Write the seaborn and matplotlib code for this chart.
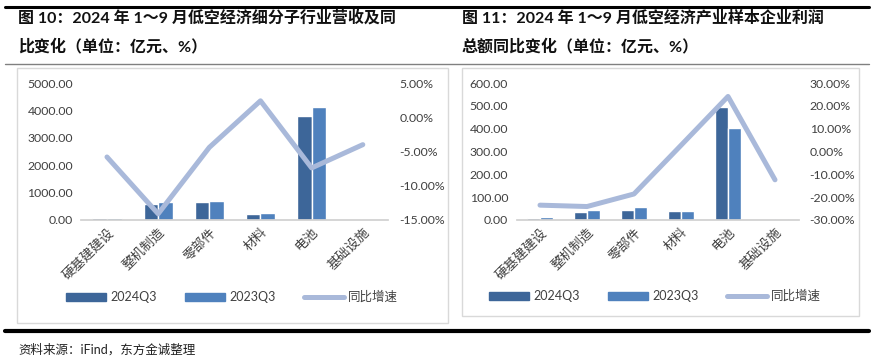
import matplotlib
matplotlib.use("Agg")
import matplotlib.pyplot as plt
from matplotlib.patches import Rectangle
from matplotlib.lines import Line2D
import seaborn as sns
import numpy as np
import pandas as pd

categories = ['硬基建建设', '整机制造', '零部件', '材料', '电池', '基础设施']
periods = ['2024Q3', '2023Q3']

# figure 10: revenue (亿元) and yoy (%)
rev_2024 = [60, 585, 670, 230, 3800, 5]
rev_2023 = [70, 660, 705, 240, 4120, 5]
rev_yoy = [-5.8, -14.1, -4.4, 2.4, -7.4, -4.0]

# figure 11: profit (亿元) and yoy (%)
profit_2024 = [7, 35, 45, 41, 497, 0.5]
profit_2023 = [11, 45, 57, 39, 401, 3]
profit_yoy = [-23.5, -24.1, -18.6, 2.7, 24.1, -12.4]

title_10 = ['图 10：2024 年 1～9 月低空经济细分子行业营收及同', '比变化（单位：亿元、%）']
title_11 = ['图 11：2024 年 1～9 月低空经济产业样本企业利润', '总额同比变化（单位：亿元、%）']
source = '资料来源：iFind，东方金诚整理'

sns.set_theme(style='white')
plt.rcParams['font.family'] = ['Lato', 'Noto Sans CJK SC', 'DejaVu Sans']

dark = '#3D6699'
mid = '#4F81BD'
light = '#A9B9DA'
tick_col = '#404040'

W, H = 874, 359
fig = plt.figure(figsize=(W / 100, H / 100), dpi=100)


def px(x, y, w, h):
    # pixel box (top-left origin) -> figure coords
    return [x / W, 1 - (y + h) / H, w / W, h / H]


def hline(x0, x1, y, lw, color):
    fig.add_artist(Line2D([x0 / W, x1 / W], [1 - y / H, 1 - y / H], lw=lw, color=color,
                          transform=fig.transFigure))


def frame(x0, y0, x1, y1):
    fig.add_artist(Rectangle((x0 / W, 1 - y1 / H), (x1 - x0) / W, (y1 - y0) / H,
                             transform=fig.transFigure, fill=False, edgecolor='#D9D9D9', lw=1))


def panel(box, v24, v23, yoy, ylim, yticks, y2lim, y2ticks, legend_xy):
    ax = fig.add_axes(px(*box))
    df = pd.DataFrame({
        'cat': categories * 2,
        'period': [periods[0]] * len(categories) + [periods[1]] * len(categories),
        'value': list(v24) + list(v23),
    })
    sns.barplot(data=df, x='cat', y='value', hue='period', palette=[dark, mid],
                width=0.57, ax=ax, legend=False, saturation=1)
    ax.set_xlim(-0.5, len(categories) - 0.5)
    ax.set_ylim(*ylim)
    ax.set_yticks(yticks)
    ax.set_yticklabels([f'{v:.2f}' for v in yticks])
    ax.set_xlabel('')
    ax.set_ylabel('')
    ax.set_xticks(range(len(categories)))
    ax.set_xticklabels(categories, rotation=45, ha='right', rotation_mode='anchor')
    for s in ['top', 'left', 'right']:
        ax.spines[s].set_visible(False)
    ax.spines['bottom'].set_color('#D0D0D0')
    ax.tick_params(axis='y', length=0, pad=6, labelsize=8.8, labelcolor=tick_col)
    ax.tick_params(axis='x', length=0, pad=4, labelsize=9.5, labelcolor=tick_col)

    ax2 = ax.twinx()
    sns.lineplot(x=np.arange(len(categories)), y=yoy, ax=ax2, color=light, lw=3.6)
    ax2.set_ylim(*y2lim)
    ax2.set_yticks(y2ticks)
    ax2.set_yticklabels([f'{v:.2f}%' for v in y2ticks])
    for s in ax2.spines.values():
        s.set_visible(False)
    ax2.tick_params(axis='y', length=0, pad=8, labelsize=8.8, labelcolor=tick_col)
    ax2.set_ylabel('')

    handles = [Rectangle((0, 0), 1, 1, color=dark), Rectangle((0, 0), 1, 1, color=mid),
               Line2D([0], [0], color=light, lw=3.6)]
    fig.legend(handles, periods + ['同比增速'], loc='center',
               bbox_to_anchor=(legend_xy[0] / W, 1 - legend_xy[1] / H), ncol=3,
               frameon=False, fontsize=9, handlelength=3.2, handleheight=0.6,
               columnspacing=2.3, handletextpad=0.3, labelcolor=tick_col)
    return ax


# page decorations
hline(5, 869, 7, 2.2, 'black')
hline(5, 869, 64, 1.0, '#808080')
hline(5, 869, 331, 3.0, 'black')
frame(17, 68, 448, 323)
frame(462, 68, 859, 316)

for i, line in enumerate(title_10):
    fig.text(18 / W, 1 - (18 + 28 * i) / H, line, fontsize=11.5, fontweight='bold',
             va='center', ha='left', color='#111111')
for i, line in enumerate(title_11):
    fig.text(462 / W, 1 - (18 + 28 * i) / H, line, fontsize=11.5, fontweight='bold',
             va='center', ha='left', color='#111111')
fig.text(18 / W, 1 - 349 / H, source, fontsize=9, va='center', ha='left', color='#222222')

panel((81.4, 83, 307, 137), rev_2024, rev_2023, rev_yoy,
      (0, 5000), np.arange(0, 5001, 1000), (-15, 5), np.arange(-15, 6, 5), (232, 297))
panel((516.5, 83, 282, 137), profit_2024, profit_2023, profit_yoy,
      (0, 600), np.arange(0, 601, 100), (-30, 30), np.arange(-30, 31, 10), (655, 296))

fig.savefig('out.png', dpi=100)
